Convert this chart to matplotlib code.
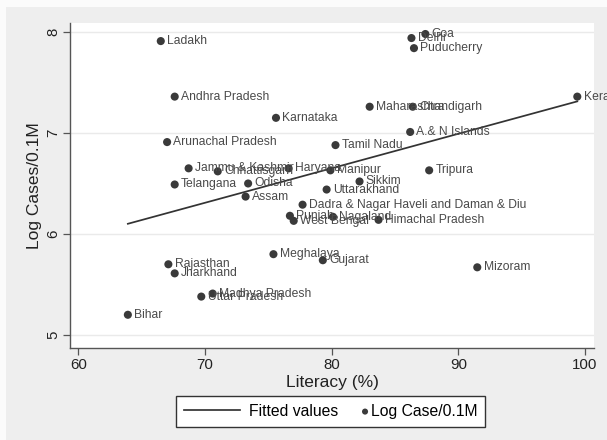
import numpy as np
import matplotlib
matplotlib.use('Agg')
import matplotlib.pyplot as plt
from matplotlib.patches import Rectangle
from matplotlib.collections import PathCollection
from matplotlib.legend_handler import HandlerPathCollection

plt.rcParams['font.family'] = ['Liberation Sans', 'DejaVu Sans']

# state / UT, literacy (%), log cases per 0.1M
states = ['Ladakh', 'Andhra Pradesh', 'Karnataka', 'Arunachal Pradesh',
          'Jammu & Kashmir', 'Chhattisgarh', 'Haryana', 'Manipur',
          'Telangana', 'Odisha', 'Assam', 'Uttarakhand', 'Sikkim',
          'Dadra & Nagar Haveli and Daman & Diu', 'Punjab', 'West Bengal',
          'Nagaland', 'Himachal Pradesh', 'Goa', 'Delhi', 'Puducherry',
          'Kerala', 'Maharashtra', 'Chandigarh', 'A.& N Islands',
          'Rajasthan', 'Jharkhand', 'Meghalaya', 'Gujarat', 'Madhya Pradesh',
          'Uttar Pradesh', 'Bihar', 'Tamil Nadu', 'Tripura', 'Mizoram']
literacy = [66.5, 67.6, 75.6, 67.0,
            68.7, 71.0, 76.6, 79.9,
            67.6, 73.4, 73.2, 79.6, 82.2,
            77.7, 76.7, 77.0,
            80.1, 83.7, 87.4, 86.3, 86.5,
            99.4, 83.0, 86.4, 86.2,
            67.1, 67.6, 75.4, 79.3, 70.6,
            69.7, 63.9, 80.3, 87.7, 91.5]
log_cases = [7.91, 7.36, 7.15, 6.91,
             6.65, 6.62, 6.65, 6.63,
             6.49, 6.50, 6.37, 6.44, 6.52,
             6.29, 6.18, 6.13,
             6.17, 6.14, 7.98, 7.94, 7.84,
             7.36, 7.26, 7.26, 7.01,
             5.70, 5.61, 5.80, 5.74, 5.41,
             5.38, 5.20, 6.88, 6.63, 5.67]

x = np.array(literacy)
y = np.array(log_cases)
slope, intercept = np.polyfit(x, y, 1)
xfit = np.array([x.min(), x.max()])
yfit = intercept + slope * xfit


class DotAtRight(HandlerPathCollection):
    # put the single legend marker just before its label instead of mid-handle
    def get_xdata(self, legend, xdescent, ydescent, width, height, fontsize):
        xdata = [-xdescent, -xdescent + width]
        return xdata, [-xdescent + width + 0.2 * fontsize]


fig = plt.figure(figsize=(6.07, 4.40), dpi=100)
fig.patch.set_facecolor('#fbfbfb')
# grey graph region behind the plot
fig.patches.append(Rectangle((6 / 607, 0), 1, 1 - 7 / 440, transform=fig.transFigure,
                             facecolor='#eeeeee', edgecolor='none', zorder=-1))

ax = fig.add_axes([70 / 607, 1 - 348 / 440, 524 / 607, 325 / 440])
ax.set_facecolor('white')
ax.set_xlim(59.33, 100.72)
ax.set_ylim(4.871, 8.089)

for s in ['top', 'right']:
    ax.spines[s].set_visible(False)
for s in ['left', 'bottom']:
    ax.spines[s].set_color('#555555')
    ax.spines[s].set_linewidth(1.0)

ax.set_xticks([60, 70, 80, 90, 100])
ax.set_yticks([5, 6, 7, 8])
ax.tick_params(axis='both', direction='out', length=5, width=0.9, color='#555555',
               labelsize=10.8, labelcolor='#222222', pad=2)
plt.setp(ax.get_yticklabels(), rotation=90, va='center')
ax.grid(axis='y', color='#eaeaea', linewidth=1.0)
ax.set_axisbelow(True)

ax.plot(xfit, yfit, color='#333333', linewidth=1.25, label='Fitted values', zorder=2)
ax.scatter(x, y, s=34, color='#3a3a3a', edgecolors='none', label='Log Case/0.1M', zorder=3)

for name, xi, yi in zip(states, literacy, log_cases):
    ax.annotate(name, (xi, yi), xytext=(4.5, 0), textcoords='offset points',
                ha='left', va='center', fontsize=8.7, color='#4a4a4a', zorder=4)

ax.set_xlabel('Literacy (%)', fontsize=12.5, color='#222222', labelpad=2)
ax.set_ylabel('Log Cases/0.1M', fontsize=12.5, color='#222222', labelpad=3)

handles, labels = ax.get_legend_handles_labels()
leg = fig.legend(handles, labels, loc='center', bbox_to_anchor=(330.5 / 607, 1 - 411.2 / 440),
                 ncol=2, fontsize=11.3, frameon=True, fancybox=False, handlelength=3.6,
                 handletextpad=0.55, columnspacing=-2.1, borderpad=0.5, markerscale=0.75,
                 handler_map={PathCollection: DotAtRight()})
leg.get_frame().set_edgecolor('#333333')
leg.get_frame().set_linewidth(1.0)
leg.get_frame().set_facecolor('white')
leg.get_frame().set_alpha(1)

fig.savefig('out.png', dpi=100, facecolor=fig.get_facecolor())
